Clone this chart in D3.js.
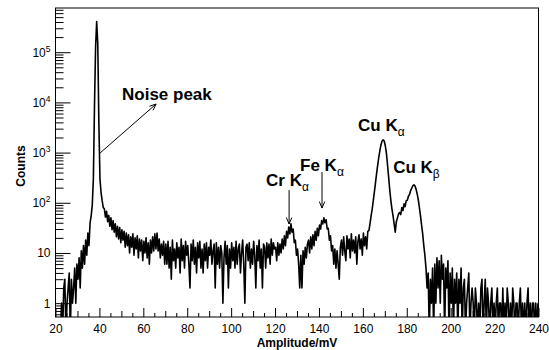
<!DOCTYPE html>
<html><head><meta charset="utf-8">
<script src="https://cdn.jsdelivr.net/npm/d3@7"></script>
<style>
body{margin:0;background:#fff}
svg{display:block}
text{font-family:"Liberation Sans",Arial,Helvetica,sans-serif;fill:#000}
</style>
</head><body>
<svg id="chart" width="549" height="350"></svg>
<script>
// ---------------- data (counts per 0.5 mV bin) ----------------
const binWidth = 0.5;
const lowStart = 20;
const lowCounts = [0,0,0,0,0,1,0,2,3,0,1,2,4,0,3,1,2,5,1,6];
const riseStart = 30;
const riseCounts = [3,8,2,11,5,14,6,18,9,25,14,40,55,90];
const noiseStart = 37;
const noiseCounts = [300,8000,120000,410000,150000,4000,300,160,110,80];
const tailStart = 42;
const tailCounts = [76,52,68,42,56,34,50,29,44,26,38,21,34,19,32,16,29,18,27,13,
  25,14,23,10,21,13,24,9,20,12,22,8,19,11,18,7,17,10,20,8,
  16,6,18,10,21,11,24,12,25,11,19,8,15,9,17,6];
const baseStart = 70;
const baseCounts = [15,6,17,5,13,3,18,7,12,5, 16,8,13,4,19,7,14,5,17,9,
  14,6,2,15,7,18,6,13,4,16, 8,17,5,12,4,15,7,16,5,13,
  9,18,6,11,15,2,16,6,13,5, 14,10,1,8,17,6,14,2,12,5,
  16,7,13,5,17,6,12,15,4,10, 18,6,1,13,15,7,16,5,12,6,
  17,9,2,14,7,18,5,12,2,15, 13,5,16,8,15,6,19,9,16,12];
const crStart = 120;
const crCounts = [13,7,16,9,15,10,19,12,22,14,27,20,33,24,38,26,30,16,18,9,
  12,6,2,9,2,11,6,13,8,15];
const feStart = 135;
const feCounts = [18,10,21,12,23,14,27,18,31,22,36,30,44,38,50,40,46,30,31,18,
  22,11,14,6,12,5,11,6,3,13];
const plateauStart = 150;
const plateauCounts = [18,9,21,11,7,22,12,19,8,24,11,18,10,21,6,17,23,12,19,9,25,14,21,12,27];
const cuStart = 162.5;
const cuCounts = [28,38,55,75,110,165,250,380,560,800,1100,1420,1700,1800,1680,1350,950,560,320,180,
  110,75,55,38,26,42,50,60,64,58,80,70,95,84,110,112,135,146,175,195,
  218,228,215,185,150,115,80,55,36,24,14,9,5];
const highStart = 189;
const highCounts = [2,4,0,3,1,5,0,6,1,8,2,7,1,9,3,6,0,5,2,7,
  0,4,1,5,0,3,1,4,0,3,1,5,0,2,3,0,1,2,4,0,1,2];
const endStart = 210;
const endCounts = [1,0,2,1,0,1,0,2,3,0,1,3,0,2,1,0,1,2,0,1,
  0,1,2,0,1,1,0,2,0,1,0,2,1,0,1,0,2,1,0,1,
  1,0,1,2,0,1,0,1,0,1,2,0,1,0,1,1,0,1,0,1];

const segments = [
  [lowStart, lowCounts], [riseStart, riseCounts], [noiseStart, noiseCounts],
  [tailStart, tailCounts], [baseStart, baseCounts], [crStart, crCounts],
  [feStart, feCounts], [plateauStart, plateauCounts], [cuStart, cuCounts],
  [highStart, highCounts], [endStart, endCounts]
];

const xDomain = [20, 240];
const yDomain = [0.53, 7.6e5];
const xMajorTicks = [20,40,60,80,100,120,140,160,180,200,220,240];
const yMajorTicks = [1,10,100,1000,10000,100000];
const yTickExponents = ["", "", "2", "3", "4", "5"];
const yTickBases = ["1", "10", "10", "10", "10", "10"];

// annotations in data coordinates
const annotations = [
  {label:"Cr K", sub:"\u03b1", tx:115.9, ty:215, ax:126.4, ay0:179, ay1:37.7},
  {label:"Fe K", sub:"\u03b1", tx:131.4, ty:439, ax:141.4, ay0:409, ay1:78.5},
  {label:"Cu K", sub:"\u03b1", tx:157.8, ty:2690},
  {label:"Cu K", sub:"\u03b2", tx:173.8, ty:391}
];
const noisePeak = {label:"Noise peak", tx:50.3, ty:11200, x0:40.3, y0:980, x1:65.8, y1:9270};

// ---------------- layout ----------------
const svg = d3.select("#chart");
const L = 55.5, R = 538.5, T = 8, B = 317;
const x = d3.scaleLinear().domain(xDomain).range([L, R]);
const y = d3.scaleLog().domain(yDomain).range([B, T]);

const points = [];
segments.forEach(([start, vals]) => {
  vals.forEach((c, i) => points.push([start + binWidth * (i + 0.5), c]));
});

svg.append("defs").append("clipPath").attr("id", "clip")
  .append("rect").attr("x", L).attr("y", T).attr("width", R - L).attr("height", B - T);

const line = d3.line()
  .x(d => x(d[0]))
  .y(d => y(Math.max(d[1], 0.25)));

svg.append("path")
  .datum(points)
  .attr("clip-path", "url(#clip)")
  .attr("fill", "none")
  .attr("stroke", "#000")
  .attr("stroke-width", 1.6)
  .attr("stroke-linejoin", "round")
  .attr("d", line);

// x axis
const xMinor = d3.range(25, 240, 5).filter(v => v % 10 !== 0);
const xMid = d3.range(30, 240, 20);
function styleAxis(g){ g.select(".domain").remove(); g.selectAll("line").attr("stroke","#000"); }
svg.append("g").attr("transform", `translate(0,${B})`)
  .call(d3.axisBottom(x).tickValues(xMinor).tickSize(-4).tickFormat(""))
  .call(styleAxis);
svg.append("g").attr("transform", `translate(0,${B})`)
  .call(d3.axisBottom(x).tickValues(xMid).tickSize(-6).tickFormat(""))
  .call(styleAxis);
svg.append("g").attr("transform", `translate(0,${B})`)
  .call(d3.axisBottom(x).tickValues(xMajorTicks).tickSize(-9).tickPadding(7).tickFormat(d3.format("d")))
  .call(styleAxis)
  .call(g => g.selectAll("text").attr("font-size", 12).attr("font-family", null));

// y axis
const yMinor = [];
for (let e = -1; e <= 5; e++) for (let k = 2; k <= 9; k++) {
  const v = k * Math.pow(10, e);
  if (v >= yDomain[0] && v <= yDomain[1]) yMinor.push(v);
}
svg.append("g").attr("transform", `translate(${L},0)`)
  .call(d3.axisLeft(y).tickValues(yMinor).tickSize(-8).tickFormat(""))
  .call(styleAxis);
const yAx = svg.append("g").attr("transform", `translate(${L},0)`)
  .call(d3.axisLeft(y).tickValues(yMajorTicks).tickSize(-15).tickPadding(5).tickFormat(""))
  .call(styleAxis);
yAx.selectAll(".tick text").each(function(d, i) {
  const t = d3.select(this).attr("font-size", 12).attr("font-family", null);
  t.append("tspan").text(yTickBases[i]);
  if (yTickExponents[i]) t.append("tspan").attr("font-size", 8.5).attr("dy", "-0.55em").text(yTickExponents[i]);
});

// frame
svg.append("rect").attr("x", L).attr("y", T).attr("width", R - L).attr("height", B - T)
  .attr("fill", "none").attr("stroke", "#000").attr("stroke-width", 1);

// axis titles
svg.append("text").attr("x", (L + R) / 2).attr("y", 346.5).attr("text-anchor", "middle")
  .attr("font-size", 12).attr("font-weight", "bold").text("Amplitude/mV");
svg.append("text").attr("transform", "translate(25,166) rotate(-90)").attr("text-anchor", "middle")
  .attr("font-size", 12).attr("font-weight", "bold").text("Counts");

// arrows
function arrow(x0, y0, x1, y1) {
  const a = Math.atan2(y1 - y0, x1 - x0), len = 7, w = 0.4;
  const p1 = [x1 - len * Math.cos(a - w), y1 - len * Math.sin(a - w)];
  const p2 = [x1 - len * Math.cos(a + w), y1 - len * Math.sin(a + w)];
  svg.append("path").attr("fill", "none").attr("stroke", "#000").attr("stroke-width", 1)
    .attr("d", `M${x0},${y0}L${x1},${y1}M${p1[0]},${p1[1]}L${x1},${y1}L${p2[0]},${p2[1]}`);
}
arrow(x(noisePeak.x0), y(noisePeak.y0), x(noisePeak.x1), y(noisePeak.y1));
svg.append("text").attr("x", x(noisePeak.tx)).attr("y", y(noisePeak.ty))
  .attr("font-size", 17).attr("font-weight", "bold").text(noisePeak.label);

annotations.forEach(a => {
  const t = svg.append("text").attr("x", x(a.tx)).attr("y", y(a.ty))
    .attr("font-size", 17).attr("font-weight", "bold");
  t.append("tspan").text(a.label);
  t.append("tspan").attr("font-size", 12).attr("font-weight", "normal").attr("dy", 5).text(a.sub);
  if (a.ax !== undefined) arrow(x(a.ax), y(a.ay0), x(a.ax), y(a.ay1));
});
</script>
</body></html>
